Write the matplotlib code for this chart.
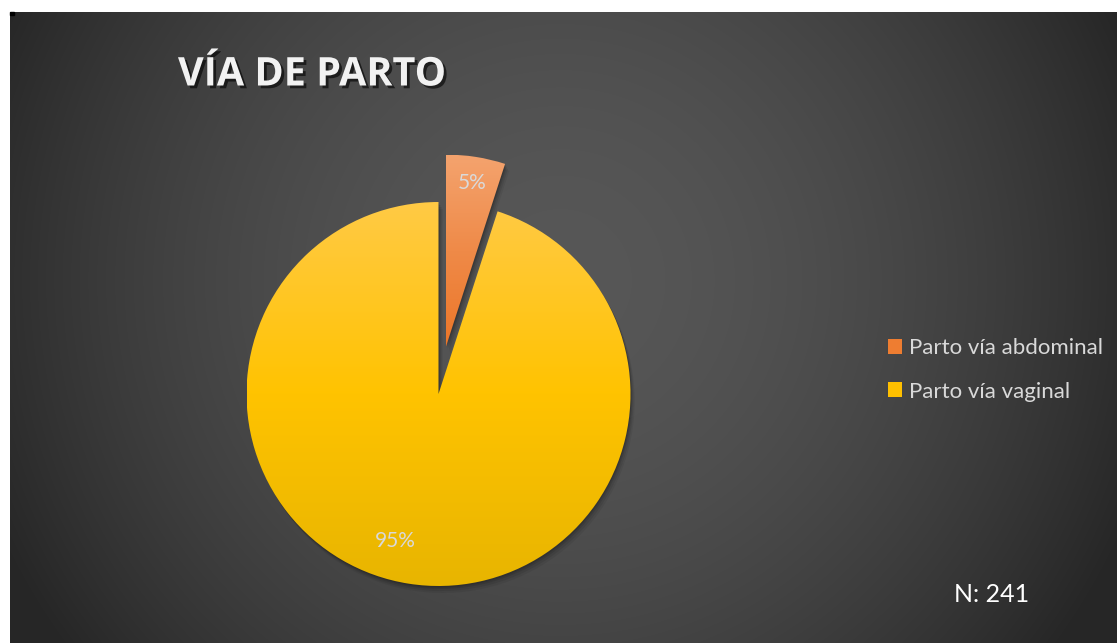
import numpy as np
import matplotlib
matplotlib.use("Agg")
import matplotlib.pyplot as plt
import matplotlib.patheffects as pe
from matplotlib.patches import Patch, Rectangle, PathPatch
from matplotlib.transforms import Affine2D
from matplotlib.colors import LinearSegmentedColormap

# data
labels = ["Parto vía abdominal", "Parto vía vaginal"]
counts = [12, 229]
n_total = 241
title = "VÍA DE PARTO"

# gradient colours (top -> bottom) per slice
grad_colors = [["#F4A36E", "#EF8A48", "#EC7628"],
               ["#FFCA45", "#FFC300", "#E8B500"]]
legend_colors = ["#EE7D31", "#FFC000"]

W, H = 1117, 643
fig = plt.figure(figsize=(W / 100, H / 100), dpi=100, facecolor="white")
ax = fig.add_axes([0, 0, 1, 1])

# dark radial background (starts a few pixels in from the left/top edge)
x0, y0 = 10, 12
yy, xx = np.mgrid[0:H - y0, 0:W - x0]
r = np.hypot(xx + x0 - 560, yy + y0 - 280) / 620
r = np.clip(r, 0, 1) ** 1.8
gray = (87 - 49 * r) / 255.0
bg = np.dstack([gray, gray, gray])
ax.imshow(bg, extent=(x0, W, 0, H - y0), origin="upper", zorder=0,
          interpolation="bilinear")
ax.add_patch(Rectangle((x0, H - y0 - 3), 4, 3, color="black", zorder=1))

# pie in pixel coordinates
cx, cy, rad = 438.5, H - 394, 192
wedges, texts, autotexts = ax.pie(
    counts, center=(cx, cy), radius=rad, startangle=90, counterclock=False,
    explode=[48, 0], autopct="%1.0f%%", pctdistance=0.86,
    textprops=dict(color="#D9D9D9", fontsize=15, family="Lato"),
    wedgeprops=dict(linewidth=0))

ax.set_xlim(0, W)
ax.set_ylim(0, H)
ax.set_aspect("equal")
ax.axis("off")

# soft shadow and gradient fill for each wedge
for w, cols in zip(wedges, grad_colors):
    path = w.get_path()
    for k, a in [(7, 0.06), (5, 0.08), (3, 0.10), (1.5, 0.12)]:
        sh = PathPatch(Affine2D().translate(k * 0.6, -k).transform_path(path),
                       facecolor="black", edgecolor="none", alpha=a, zorder=1.5)
        ax.add_patch(sh)
    ext = path.get_extents()
    cmap = LinearSegmentedColormap.from_list("g", cols[::-1])
    grad = np.linspace(0, 1, 256).reshape(-1, 1)
    im = ax.imshow(grad, cmap=cmap, aspect="auto", origin="lower",
                   extent=(ext.x0, ext.x1, ext.y0, ext.y1), zorder=2)
    im.set_clip_path(w)
    w.set_facecolor("none")

for t in autotexts:
    t.set_zorder(3)
autotexts[1].set_position((cx - 43, cy - 147))

ax.set_xlim(0, W)
ax.set_ylim(0, H)

# title
fig.text(178 / W, 1 - 75 / H, title, fontsize=28.5, fontweight="bold",
         family="Open Sans", color="#F2F2F2", va="center", ha="left",
         path_effects=[pe.withSimplePatchShadow(offset=(2, -2), alpha=0.6,
                                                shadow_rgbFace="black")])

# legend
handles = [Patch(facecolor=c, edgecolor="none") for c in legend_colors]
leg = fig.legend(handles, labels, loc="center left",
                 bbox_to_anchor=(868 / W, 1 - 370 / H), frameon=False,
                 prop=dict(family="Lato", size=16), labelcolor="#D9D9D9",
                 handlelength=0.65, handleheight=0.65, handletextpad=0.3,
                 labelspacing=1.05)

fig.text(992 / W, 1 - 594 / H, f"N: {n_total}", fontsize=18, family="Lato",
         color="white", ha="center", va="center")

fig.savefig("out.png", dpi=100, facecolor="white")
